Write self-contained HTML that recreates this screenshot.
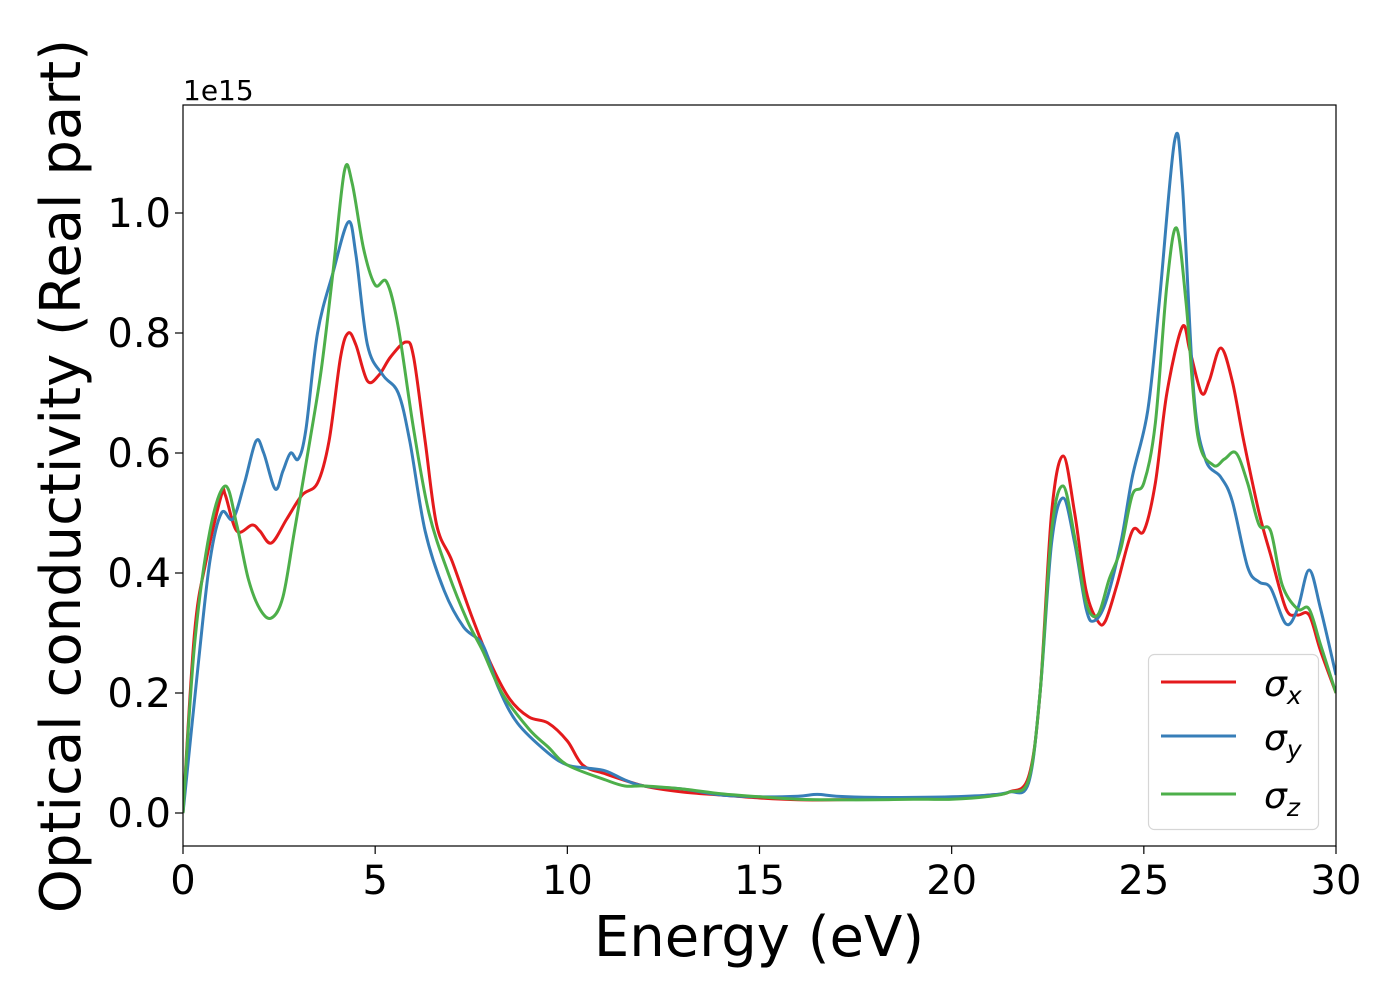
<!DOCTYPE html>
<html><head><meta charset="utf-8"><style>
html,body{margin:0;padding:0;background:#fff;}
svg text{font-family:"DejaVu Sans","Liberation Sans",sans-serif;fill:#000;}
</style></head><body>
<svg id="chart" width="1400" height="1000" xmlns="http://www.w3.org/2000/svg">
<rect x="0" y="0" width="1400" height="1000" fill="#fff"/>
<g id="series"></g>
<g id="axes"></g>
</svg>
<script>
const xTicks=[0,5,10,15,20,25,30];
const yTicks=[0,0.2,0.4,0.6,0.8,1.0];
const yTickLabels=["0.0","0.2","0.4","0.6","0.8","1.0"];
const sxX=[0,0.3,0.6,1.0,1.1,1.4,1.8,2.0,2.3,2.7,3.1,3.5,3.8,4.1,4.3,4.5,4.8,5.1,5.4,5.8,6.0,6.3,6.6,7.0,7.5,8.0,8.5,9.0,9.5,10.0,10.4,11,12,13,14,15,16,17,18,19,20,21,21.5,22,22.3,22.6,22.9,23.2,23.5,23.8,24.0,24.3,24.7,25.0,25.3,25.6,26.0,26.2,26.5,26.7,27.0,27.3,27.6,28.0,28.3,28.7,29.0,29.3,29.6,30];
const sxY=[0,0.3,0.42,0.53,0.53,0.47,0.48,0.47,0.45,0.49,0.53,0.55,0.62,0.76,0.80,0.78,0.72,0.73,0.76,0.785,0.76,0.62,0.48,0.42,0.33,0.25,0.19,0.16,0.15,0.12,0.08,0.065,0.045,0.035,0.03,0.025,0.022,0.022,0.023,0.024,0.025,0.03,0.035,0.06,0.2,0.5,0.595,0.5,0.37,0.32,0.32,0.38,0.47,0.47,0.55,0.70,0.81,0.77,0.70,0.72,0.775,0.72,0.62,0.5,0.43,0.34,0.33,0.33,0.27,0.2];
const syX=[0,0.4,0.7,1.0,1.3,1.6,1.9,2.1,2.4,2.6,2.8,3.0,3.2,3.5,3.9,4.3,4.5,4.8,5.2,5.6,5.9,6.3,6.8,7.3,7.8,8.2,8.7,9.5,10,10.5,11,11.5,12,13,14,15,16,16.5,17,18,19,20,21,21.5,22,22.3,22.6,22.9,23.2,23.5,23.7,24,24.4,24.7,25.1,25.4,25.8,26.0,26.3,26.6,27.0,27.3,27.7,28.0,28.3,28.7,29.0,29.3,29.6,30];
const syY=[0,0.25,0.42,0.50,0.49,0.55,0.62,0.60,0.54,0.57,0.60,0.59,0.64,0.80,0.90,0.985,0.93,0.78,0.73,0.70,0.62,0.47,0.37,0.31,0.28,0.21,0.15,0.10,0.08,0.075,0.07,0.055,0.045,0.04,0.03,0.027,0.028,0.031,0.028,0.026,0.026,0.027,0.03,0.035,0.05,0.2,0.45,0.525,0.45,0.34,0.32,0.35,0.45,0.56,0.67,0.85,1.12,1.05,0.70,0.59,0.56,0.52,0.41,0.385,0.375,0.315,0.34,0.405,0.34,0.23];
const szX=[0,0.3,0.7,1.1,1.4,1.7,2.0,2.3,2.6,2.9,3.3,3.6,3.9,4.2,4.4,4.7,5.0,5.3,5.6,6.0,6.4,6.9,7.4,7.8,8.3,9.0,9.5,10,11,11.5,12,13,14,15,16,17,18,19,20,21,21.5,22,22.3,22.6,22.9,23.2,23.5,23.8,24.1,24.4,24.7,25.0,25.3,25.6,25.85,26.1,26.4,26.8,27.1,27.4,27.7,28.0,28.3,28.6,29.0,29.3,29.6,30];
const szY=[0,0.28,0.47,0.545,0.48,0.39,0.34,0.325,0.36,0.47,0.62,0.74,0.90,1.07,1.05,0.94,0.88,0.885,0.81,0.64,0.50,0.40,0.32,0.27,0.20,0.14,0.11,0.08,0.055,0.045,0.045,0.04,0.032,0.027,0.023,0.022,0.022,0.023,0.023,0.028,0.035,0.055,0.2,0.47,0.545,0.46,0.35,0.33,0.39,0.44,0.53,0.55,0.65,0.88,0.975,0.85,0.63,0.58,0.59,0.60,0.55,0.48,0.47,0.38,0.34,0.34,0.28,0.2];

const L=183,R=1336,T=105,B=846;
const xMin=0,xMax=30,yMin=-0.055,yMax=1.18;
const sx=v=>L+(v-xMin)/(xMax-xMin)*(R-L);
const sy=v=>B-(v-yMin)/(yMax-yMin)*(B-T);
const NS="http://www.w3.org/2000/svg";
function mk(tag,attrs,parent){const e=document.createElementNS(NS,tag);for(const k in attrs)e.setAttribute(k,attrs[k]);parent.appendChild(e);return e;}
function pathD(xs,ys){
  const p=xs.map((x,i)=>[sx(x),sy(ys[i])]);
  let d="M"+p[0][0]+","+p[0][1];
  for(let i=0;i<p.length-1;i++){
    const p0=p[Math.max(0,i-1)],p1=p[i],p2=p[i+1],p3=p[Math.min(p.length-1,i+2)];
    const c1x=p1[0]+(p2[0]-p0[0])/6,c1y=p1[1]+(p2[1]-p0[1])/6;
    const c2x=p2[0]-(p3[0]-p1[0])/6,c2y=p2[1]-(p3[1]-p1[1])/6;
    d+=" C"+c1x+","+c1y+" "+c2x+","+c2y+" "+p2[0]+","+p2[1];
  }
  return d;
}
const sg=document.getElementById('series');
const ag=document.getElementById('axes');
const defs=mk('defs',{},sg);
const cp=mk('clipPath',{id:'clip'},defs);
mk('rect',{x:L,y:T,width:R-L,height:B-T},cp);
const cg=mk('g',{'clip-path':'url(#clip)'},sg);
const series=[["sigma-x-line",sxX,sxY,"#e41a1c"],["sigma-y-line",syX,syY,"#377eb8"],["sigma-z-line",szX,szY,"#4daf4a"]];
series.forEach(s=>{
  const p=mk('path',{d:pathD(s[1],s[2]),fill:'none',stroke:s[3],'stroke-width':3},cg);
  
  
});
const fr=mk('rect',{x:L,y:T,width:R-L,height:B-T,fill:'none',stroke:'#000','stroke-width':1.2},ag);


xTicks.forEach(v=>{
  const t=mk('line',{x1:sx(v),x2:sx(v),y1:B,y2:B+8,stroke:'#000','stroke-width':1.2},ag);
  
  
  const l=mk('text',{x:sx(v),y:B+48,'font-size':40,'text-anchor':'middle'},ag);
  l.textContent=String(v);
  
  
});
yTicks.forEach((v,i)=>{
  const t=mk('line',{x1:L-8,x2:L,y1:sy(v),y2:sy(v),stroke:'#000','stroke-width':1.2},ag);
  
  
  const l=mk('text',{x:L-12,y:sy(v)+14,'font-size':40,'text-anchor':'end'},ag);
  l.textContent=yTickLabels[i];
  
  
});
</script>
<svg style="position:absolute;left:0;top:0" width="1400" height="1000" xmlns="http://www.w3.org/2000/svg">
<text x="183" y="100" font-size="28">1e15</text>
<text x="759" y="956" font-size="56" text-anchor="middle">Energy (eV)</text>
<text transform="translate(80,476) rotate(-90)" font-size="56" text-anchor="middle">Optical conductivity (Real part)</text>
<g>
<rect x="1148.5" y="654.5" width="170" height="175" rx="6" fill="#fff" fill-opacity="0.8" stroke="#d6d6d6" stroke-width="1.2"/>
<line x1="1161" x2="1236" y1="682" y2="682" stroke="#e41a1c" stroke-width="3"/>
<line x1="1161" x2="1236" y1="736" y2="736" stroke="#377eb8" stroke-width="3"/>
<line x1="1161" x2="1236" y1="794" y2="794" stroke="#4daf4a" stroke-width="3"/>
<text x="1264" y="696" font-size="36" font-style="italic">σ<tspan font-size="25" dy="8">x</tspan></text>
<text x="1264" y="750" font-size="36" font-style="italic">σ<tspan font-size="25" dy="8">y</tspan></text>
<text x="1264" y="808" font-size="36" font-style="italic">σ<tspan font-size="25" dy="8">z</tspan></text>
</g>
</svg>
</body></html>
